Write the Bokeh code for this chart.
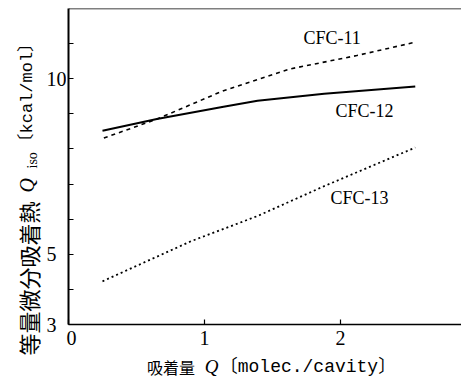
import math
from bokeh.plotting import figure
from bokeh.models import FixedTicker, Label, Span, Range1d
from bokeh.layouts import row, column
from bokeh.embed import file_html
from bokeh.resources import INLINE

# Isosteric heat of adsorption vs. loading, per refrigerant
q_cfc11 = [0.26, 0.65, 1.14, 1.63, 2.12, 2.55]
h_cfc11 = [8.31, 8.85, 9.66, 10.28, 10.66, 11.04]

q_cfc12 = [0.25, 0.65, 1.14, 1.39, 1.88, 2.55]
h_cfc12 = [8.52, 8.85, 9.20, 9.37, 9.57, 9.78]

q_cfc13 = [0.25, 0.90, 1.39, 1.88, 2.55]
h_cfc13 = [4.23, 5.37, 6.09, 6.94, 8.04]

series_names = ["CFC-11", "CFC-12", "CFC-13"]

x_ticks = [0, 1, 2]
y_ticks = [3, 4, 5, 6, 7, 8, 9, 10, 11]
y_labelled = [3, 5, 10]

# page geometry (pixels)
W, H = 461, 381
SIDE_W = 66            # left strip: y tick labels + y title
FRAME_L, FRAME_T, FRAME_B = 68, 8, 324
XT_H = 30              # bottom strip under the plot: x title
MAIN_W, MAIN_H = W - SIDE_W, H - XT_H

X0, X1 = 0.0, 2.89
Y0, Y1 = 3.0, 12.0
upp = (Y1 - Y0) / (FRAME_B - FRAME_T)   # y units per pixel


def blank_fig(w, h, xr, yr):
    f = figure(width=w, height=h, x_range=xr, y_range=yr,
               x_axis_type=None, y_axis_type=None,
               output_backend="svg", toolbar_location=None,
               min_border=0, min_border_left=0, min_border_right=0,
               min_border_top=0, min_border_bottom=0)
    f.outline_line_color = None
    f.background_fill_color = "white"
    f.border_fill_color = "white"
    f.grid.visible = False
    return f


def put(f, x, y, text, font, size, angle=0.0, style="normal", align="left"):
    f.add_layout(Label(x=x, y=y, text=text, angle=angle,
                       text_font=font, text_font_size=size, text_font_style=style,
                       text_color="black", text_align=align, text_baseline="middle"))


# ---- main plot -------------------------------------------------------------
p = figure(width=MAIN_W, height=MAIN_H, x_range=(X0, X1), y_range=(Y0, Y1),
           output_backend="svg", toolbar_location=None,
           min_border_left=FRAME_L - SIDE_W, min_border_right=0,
           min_border_top=FRAME_T, min_border_bottom=MAIN_H - FRAME_B)
p.background_fill_color = "white"
p.border_fill_color = "white"
p.outline_line_color = None
p.grid.visible = False

for ax in (p.xaxis[0], p.yaxis[0]):
    ax.axis_line_color = "black"
    ax.major_tick_line_color = "black"
    ax.minor_tick_line_color = None
    ax.major_tick_in = 5
    ax.major_tick_out = 0
    ax.major_label_text_font = "Liberation Serif"
    ax.major_label_text_font_size = "20px"
    ax.major_label_text_color = "black"
    ax.axis_label = None

p.xaxis[0].ticker = FixedTicker(ticks=x_ticks)
p.xaxis[0].axis_line_width = 1.5
p.xaxis[0].major_tick_line_width = 1.2
p.xaxis[0].major_label_standoff = 6

p.yaxis[0].ticker = FixedTicker(ticks=y_ticks)
p.yaxis[0].major_label_overrides = {t: "" for t in y_ticks}
p.yaxis[0].major_label_standoff = 0
p.yaxis[0].axis_line_width = 2
p.yaxis[0].major_tick_line_width = 1.2

# top border of the frame
p.add_layout(Span(location=Y1, dimension="width", line_color="black", line_width=1.5))

p.line(q_cfc11, h_cfc11, line_color="black", line_width=1.6, line_dash="4 4")
p.line(q_cfc12, h_cfc12, line_color="black", line_width=2)
p.line(q_cfc13, h_cfc13, line_color="black", line_width=1.8, line_dash="2 3")

fw = W - FRAME_L
def sx(px):
    return X0 + (px - FRAME_L) / fw * (X1 - X0)
def sy(py):
    return Y1 - (py - FRAME_T) * upp

label_pos = [(303, 37), (335, 110), (330, 197)]
for name, (px, py) in zip(series_names, label_pos):
    put(p, sx(px), sy(py), name, "Liberation Serif", "18px")

# ---- left strip: y tick labels (left aligned) and y title ---------------------
side = blank_fig(SIDE_W, H, Range1d(0, SIDE_W),
                 Range1d(Y0 - (H - FRAME_B) * upp, Y1 + FRAME_T * upp))
for t in y_labelled:
    put(side, 46, t, str(t), "Liberation Serif", "20px")

rot = math.pi / 2
put(side, 27, sy(355), "等量微分吸着熱", "Noto Sans CJK JP", "22px", angle=rot)
put(side, 26, sy(192), "Q", "Liberation Serif", "20px", angle=rot, style="italic")
put(side, 32, sy(168), "iso", "Liberation Serif", "14px", angle=rot)
put(side, 27, sy(150), "〔kcal/mol〕", "'Liberation Mono', 'Noto Sans CJK JP'", "17px", angle=rot)

# ---- bottom strip: x title ---------------------------------------------------
xt = blank_fig(MAIN_W, XT_H, Range1d(SIDE_W, W), Range1d(H, H - XT_H))
put(xt, 145, 366, "吸着量", "Noto Sans CJK JP", "16px")
put(xt, 203, 366, "Q", "Liberation Serif", "19px", style="italic")
put(xt, 218, 366, "〔molec./cavity〕", "'Liberation Mono', 'Noto Sans CJK JP'", "18px")

layout = row(side, column(p, xt, spacing=0), spacing=0)

open("out.html", "w").write(file_html(layout, INLINE))
